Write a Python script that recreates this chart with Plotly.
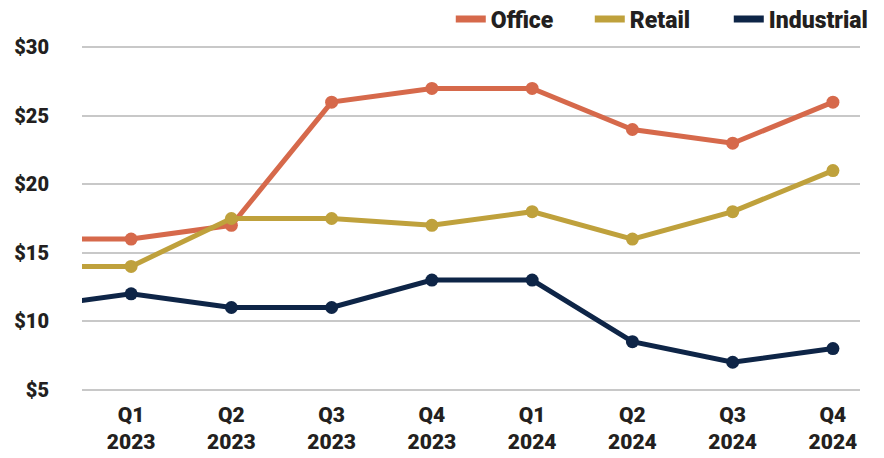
import plotly.graph_objects as go

quarters = ["Q4<br>2022", "Q1<br>2023", "Q2<br>2023", "Q3<br>2023", "Q4<br>2023",
            "Q1<br>2024", "Q2<br>2024", "Q3<br>2024", "Q4<br>2024"]
office = [16, 16, 17, 26, 27, 27, 24, 23, 26]
retail = [14, 14, 17.5, 17.5, 17, 18, 16, 18, 21]
industrial = [11, 12, 11, 11, 13, 13, 8.5, 7, 8]
y_ticks = [5, 10, 15, 20, 25, 30]
y_labels = ["$5", "$10", "$15", "$20", "$25", "$30"]

series = [("Office", office, "#D6694B"),
          ("Retail", retail, "#BFA13C"),
          ("Industrial", industrial, "#0E2547")]

FONT = "Roboto"
TXT = "#231F20"

fig = go.Figure()
for name, vals, col in series:
    fig.add_trace(go.Scatter(
        x=quarters, y=vals, name=name, mode="lines+markers",
        line=dict(color=col, width=5),
        marker=dict(color=col, size=13),
        cliponaxis=True, showlegend=False,
    ))
for name, vals, col in series:
    fig.add_trace(go.Scatter(
        x=[None], y=[None], name=name, mode="lines",
        line=dict(color=col, width=7), showlegend=True,
    ))

fig.update_layout(
    width=884, height=458,
    margin=dict(l=82, r=24, t=46, b=67, autoexpand=False),
    plot_bgcolor="white", paper_bgcolor="white",
    font=dict(family=FONT, color=TXT, size=20, weight=900),
    showlegend=True,
    legend=dict(orientation="h", x=1.01, xanchor="right", y=1.078, yanchor="middle",
                font=dict(family=FONT, size=23, color=TXT, weight=900),
                itemwidth=30, entrywidth=94, traceorder="normal",
                bgcolor="rgba(0,0,0,0)", itemclick=False),
    xaxis=dict(type="category", range=[0.51, 8.27], showgrid=False,
               zeroline=False, showline=False, ticks="",
               ticklabelstandoff=9,
               tickfont=dict(family=FONT, size=21, color=TXT, weight=900)),
    yaxis=dict(range=[4.9, 30.1], tickvals=y_ticks, ticktext=y_labels,
               showgrid=True, gridcolor="#C8C8C8", gridwidth=1.5,
               zeroline=False, showline=False, ticks="",
               ticklabelstandoff=32,
               tickfont=dict(family=FONT, size=20, color=TXT, weight=900)),
)

fig.write_html("out.html", config={"displayModeBar": False},
               post_script="document.body.style.margin='0';document.body.style.padding='0';")
